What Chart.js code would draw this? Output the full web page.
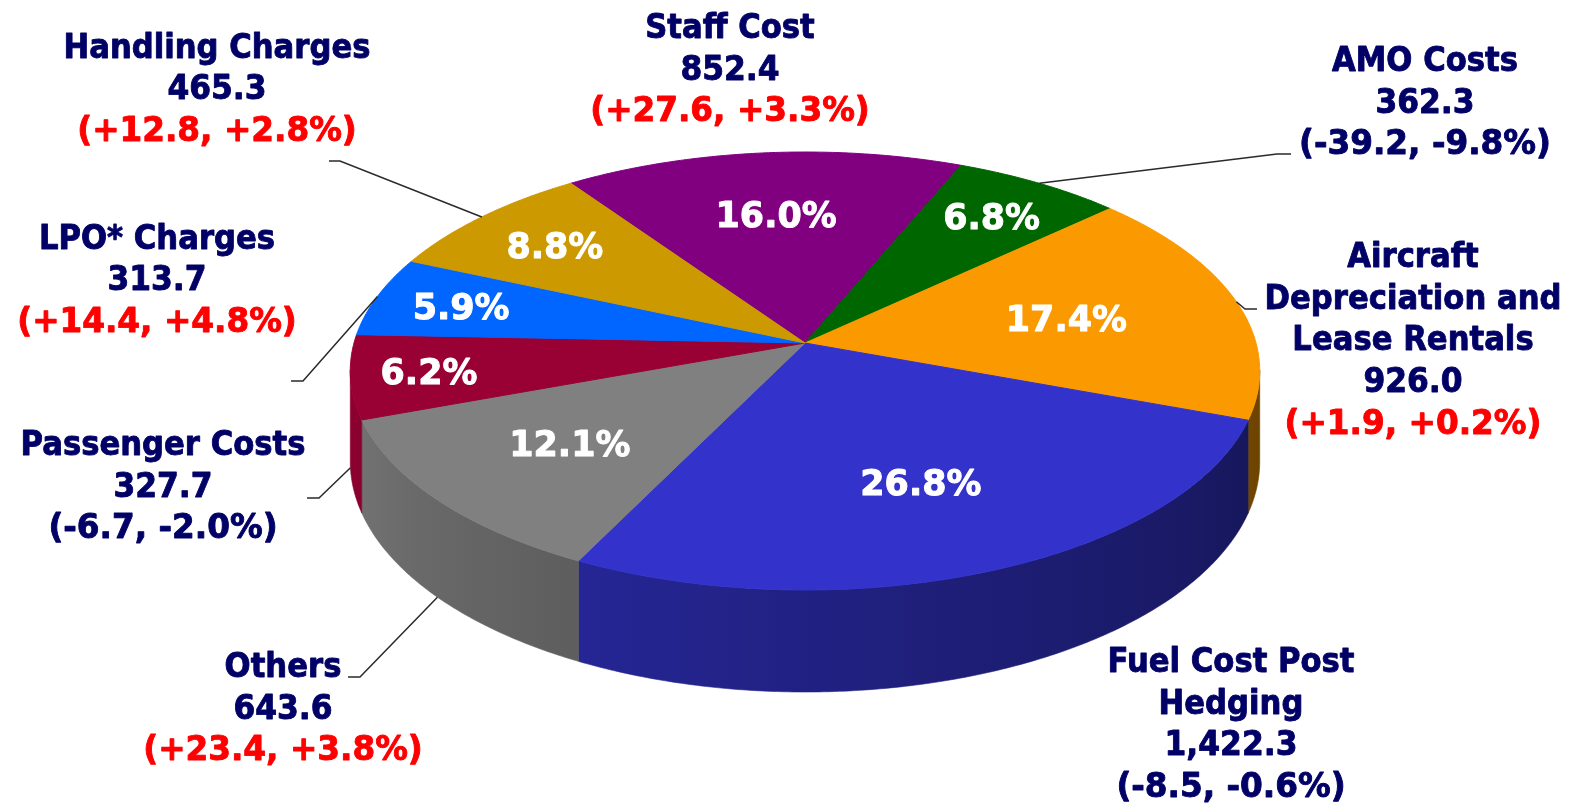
<!DOCTYPE html>
<html><head><meta charset="utf-8">
<script src="https://cdn.jsdelivr.net/npm/chart.js@4.4.1/dist/chart.umd.min.js"></script>
<style>html,body{margin:0;padding:0;background:#fff;overflow:hidden}canvas{display:block}</style>
</head><body>
<canvas id="c" width="1572" height="805"></canvas>
<script>
// ---------- data ----------
const categories = ['Staff Cost', 'AMO Costs', 'Aircraft Depreciation and Lease Rentals', 'Fuel Cost Post Hedging', 'Others', 'Passenger Costs', 'LPO* Charges', 'Handling Charges'];
const values = [852.4, 362.3, 926.0, 1422.3, 643.6, 327.7, 313.7, 465.3];
const changeAbs = [27.6, -39.2, 1.9, -8.5, 23.4, -6.7, 14.4, 12.8];
const changePct = [3.3, -9.8, 0.2, -0.6, 3.8, -2.0, 4.8, 2.8];

// ---------- style / layout ----------
const colors = ['#800080', '#006600', '#FA9A00', '#3333CC', '#808080', '#990033', '#0066FF', '#CC9900'];
const PROJ = { x0: 805, y0: 343, a: 451, b: 215.4, g: -0.1278, depth: 89 };
const ROTATION = -35;
const FONT = '"DejaVu Sans", Verdana, sans-serif';
const NAVY = '#000066', RED = '#FF0000';
const LINE_H = 41.7;
const LABELS = [
  { x: 730,  y: 38,    wrap: 400, leader: null },
  { x: 1425, y: 71,    wrap: 400, leader: [1291, 154, 1277] },
  { x: 1413, y: 267,   wrap: 320, leader: [1257, 309, 1245] },
  { x: 1231, y: 672,   wrap: 300, leader: null },
  { x: 283,  y: 677,   wrap: 400, leader: [348, 677, 360] },
  { x: 163,  y: 455,   wrap: 400, leader: [307, 498, 319] },
  { x: 157,  y: 248.5, wrap: 400, leader: [291, 381, 303] },
  { x: 217,  y: 57.5,  wrap: 400, leader: [329, 161, 340] }
];
const INNER_R = [0.65, 0.78, 0.60, 0.64, 0.66, 0.83, 0.80, 0.76];
const SQ_NAME = 0.93, SQ_VALUE = 0.95, SQ_CHANGE = 0.99;

const TAU = Math.PI * 2;
function rim(t, r) {
  r = r === undefined ? 1 : r;
  const u = r * Math.cos(t), v = r * Math.sin(t);
  const d = 1 + PROJ.g * v;
  return { x: PROJ.x0 + PROJ.a * u / d, y: PROJ.y0 + PROJ.b * v / d, d: d };
}
function hexRgb(h) { const n = parseInt(h.slice(1), 16); return [(n >> 16) & 255, (n >> 8) & 255, n & 255]; }
function shade(hex, f) { const c = hexRgb(hex); return 'rgb(' + c.map(x => Math.round(x * f)).join(',') + ')'; }
function shadeFactor(t) { const k = Math.min(1, Math.max(0, t / Math.PI)); return 0.42 + 0.55 * Math.pow(k, 1.3); }

function drawSide(ctx, a, b, color) {
  const N = Math.max(2, Math.ceil((b - a) / 0.01));
  ctx.beginPath();
  for (let i = 0; i <= N; i++) { const p = rim(a + (b - a) * i / N); if (i) ctx.lineTo(p.x, p.y); else ctx.moveTo(p.x, p.y); }
  for (let i = N; i >= 0; i--) { const p = rim(a + (b - a) * i / N); ctx.lineTo(p.x, p.y + PROJ.depth / p.d); }
  ctx.closePath();
  let xmin = Infinity, xmax = -Infinity;
  const samples = [];
  for (let i = 0; i <= 12; i++) { const t = a + (b - a) * i / 12; const p = rim(t); samples.push([p.x, t]); xmin = Math.min(xmin, p.x); xmax = Math.max(xmax, p.x); }
  if (xmax - xmin < 1) { ctx.fillStyle = shade(color, shadeFactor((a + b) / 2)); }
  else {
    const gr = ctx.createLinearGradient(xmin, 0, xmax, 0);
    samples.forEach(s => gr.addColorStop(Math.min(1, Math.max(0, (s[0] - xmin) / (xmax - xmin))), shade(color, shadeFactor(s[1]))));
    ctx.fillStyle = gr;
  }
  ctx.fill();
  ctx.strokeStyle = ctx.fillStyle; ctx.lineWidth = 0.6; ctx.stroke();
}

let saved = null;
const pie3d = {
  id: 'pie3d',
  beforeDraw(chart) {
    const c = chart.ctx; c.save(); c.fillStyle = '#fff'; c.fillRect(0, 0, chart.width, chart.height); c.restore();
  },
  beforeDatasetsDraw(chart) {
    const ctx = chart.ctx;
    const arcs = chart.getDatasetMeta(0).data;
    const cx = arcs[0].x, cy = arcs[0].y, R = arcs[0].outerRadius;
    // side walls: only the part of the rim that faces the viewer (between the silhouette points)
    const sil = Math.asin(-PROJ.g);
    const lo = sil - 0.005, hi = Math.PI - sil + 0.005;
    ctx.save();
    arcs.forEach((arc, i) => {
      for (const k of [-1, 0, 1]) {
        const s = arc.startAngle + k * TAU, e = arc.endAngle + k * TAU;
        const a = Math.max(s, lo), b = Math.min(e, hi);
        if (b > a) drawSide(ctx, a, b, colors[i]);
      }
    });
    ctx.restore();
    // perspective projection of the library's own arc paths
    const P = (x, y) => { const u = (x - cx) / R, v = (y - cy) / R; const d = 1 + PROJ.g * v; return [PROJ.x0 + PROJ.a * u / d, PROJ.y0 + PROJ.b * v / d]; };
    const proto = Object.getPrototypeOf(ctx);
    const oMove = proto.moveTo, oLine = proto.lineTo;
    saved = true;
    ctx.moveTo = function (x, y) { const p = P(x, y); oMove.call(this, p[0], p[1]); };
    ctx.lineTo = function (x, y) { const p = P(x, y); oLine.call(this, p[0], p[1]); };
    ctx.arc = function (x, y, r, s, e, ccw) {
      if (!(r > 0) || !isFinite(s) || !isFinite(e)) { const p = P(x, y); oLine.call(this, p[0], p[1]); return; }
      let sw = e - s;
      if (!ccw) { if (sw < 0) sw = (sw % TAU) + TAU; if (sw > TAU) sw = TAU; }
      else { if (sw > 0) sw = (sw % TAU) - TAU; if (sw < -TAU) sw = -TAU; }
      const n = Math.max(2, Math.ceil(Math.abs(sw) / 0.008));
      for (let i = 0; i <= n; i++) {
        const t = s + sw * i / n;
        const p = P(x + r * Math.cos(t), y + r * Math.sin(t));
        oLine.call(this, p[0], p[1]);
      }
    };
  },
  afterDatasetsDraw(chart) {
    const ctx = chart.ctx;
    if (saved) { delete ctx.moveTo; delete ctx.lineTo; delete ctx.arc; saved = null; }
  },
  afterDraw(chart) {
    const ctx = chart.ctx;
    const arcs = chart.getDatasetMeta(0).data;
    const total = values.reduce((s, v) => s + v, 0);
    ctx.save();
    ctx.lineJoin = 'round';
    const boldText = (txt, x, y, w, col, sw) => {
      ctx.fillStyle = col; ctx.strokeStyle = col; ctx.lineWidth = sw;
      ctx.fillText(txt, x, y, w);
      ctx.strokeText(txt, x, y, w);
    };
    // percentage labels inside slices
    ctx.font = 'bold 36px ' + FONT;
    ctx.textAlign = 'center';
    ctx.textBaseline = 'alphabetic';
    arcs.forEach((arc, i) => {
      const mid = (arc.startAngle + arc.endAngle) / 2;
      const p = rim(mid, INNER_R[i]);
      const txt = (values[i] / total * 100).toFixed(1) + '%';
      boldText(txt, p.x, p.y + 13, ctx.measureText(txt).width * 0.97, '#FFFFFF', 1.0);
    });
    // leader lines
    ctx.strokeStyle = '#2a2a2a';
    ctx.lineWidth = 1.5;
    ctx.lineJoin = 'miter';
    arcs.forEach((arc, i) => {
      const L = LABELS[i].leader; if (!L) return;
      const mid = (arc.startAngle + arc.endAngle) / 2;
      const p = rim(mid);
      const ey = Math.sin(mid) > 0.05 ? p.y + PROJ.depth / p.d : p.y;
      ctx.beginPath(); ctx.moveTo(L[0], L[1]); ctx.lineTo(L[2], L[1]); ctx.lineTo(p.x, ey); ctx.stroke();
    });
    ctx.lineJoin = 'round';
    // category labels
    ctx.font = 'bold 33px ' + FONT;
    categories.forEach((name, i) => {
      const L = LABELS[i];
      const words = name.split(' ');
      const lines = [];
      let cur = '';
      words.forEach(w => {
        const test = cur ? cur + ' ' + w : w;
        if (cur && ctx.measureText(test).width * SQ_NAME > L.wrap) { lines.push(cur); cur = w; } else cur = test;
      });
      if (cur) lines.push(cur);
      const rows = lines.map(t => [t, NAVY, SQ_NAME]);
      rows.push([values[i].toLocaleString('en-US', { minimumFractionDigits: 1, maximumFractionDigits: 1 }), NAVY, SQ_VALUE]);
      const sg = v => (v >= 0 ? '+' : '-') + Math.abs(v).toFixed(1);
      rows.push(['(' + sg(changeAbs[i]) + ', ' + sg(changePct[i]) + '%)', changeAbs[i] >= 0 ? RED : NAVY, SQ_CHANGE]);
      rows.forEach((r, k) => {
        boldText(r[0], L.x, L.y + k * LINE_H, ctx.measureText(r[0]).width * r[2], r[1], 0.9);
      });
    });
    ctx.restore();
  }
};

new Chart(document.getElementById('c'), {
  type: 'pie',
  data: { labels: categories, datasets: [{ data: values, backgroundColor: colors, borderColor: colors, borderWidth: 1 }] },
  options: {
    responsive: false, animation: false, rotation: ROTATION, events: [],
    layout: { padding: 0 },
    plugins: { legend: { display: false }, tooltip: { enabled: false } }
  },
  plugins: [pie3d]
});
</script>
</body></html>
